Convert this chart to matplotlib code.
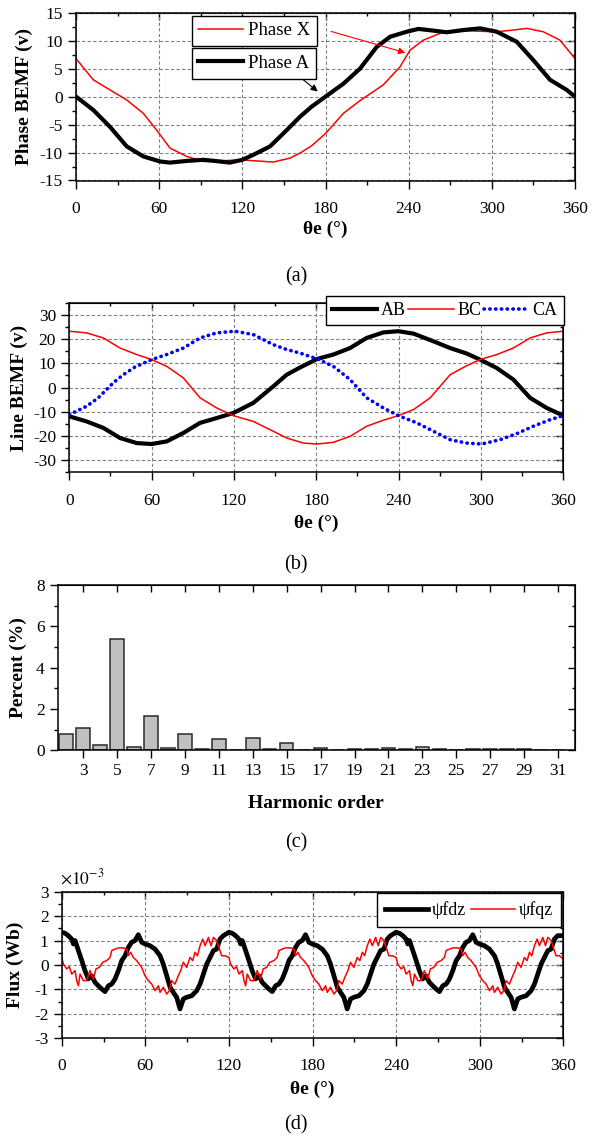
import numpy as np
import matplotlib
matplotlib.use('Agg')
import matplotlib.pyplot as plt
from matplotlib.ticker import MultipleLocator, FixedLocator

plt.rcParams['font.family'] = ['Liberation Serif', 'DejaVu Serif']
plt.rcParams['mathtext.fontset'] = 'stix'
plt.rcParams['axes.unicode_minus'] = False

# (a) phase back-EMF
phase_a_deg = [0, 12.5, 24.5, 36.6, 48.6, 60.6, 67.8, 79.9, 91.9, 103.9, 111, 120, 128, 140, 152,
               161.6, 170, 180, 192.9, 204.9, 217, 226.6, 238.6, 247, 257.8, 267.5, 279.5, 291.5,
               303.5, 318, 330, 342, 354, 360]
phase_a = [0, -2.4, -5.4, -8.9, -10.7, -11.6, -11.8, -11.5, -11.3, -11.6, -11.8, -11.3, -10.4, -8.9,
           -6.0, -3.6, -1.8, 0, 2.3, 5.0, 8.9, 10.7, 11.6, 12.1, 11.8, 11.5, 11.9, 12.2, 11.6, 9.8,
           6.5, 3.0, 1.2, 0]
phase_x_deg = [0, 12.5, 24.5, 36.6, 48.6, 58.2, 67.8, 79.9, 91.9, 103.9, 118.3, 130.3, 142.3, 154.3,
               161.6, 170, 180, 192.9, 205, 221.7, 233.7, 241, 250.6, 262.6, 274.6, 289, 303.5,
               315.5, 325.1, 337.1, 349.1, 360]
phase_x = [6.8, 3.0, 1.2, -0.6, -3.0, -6.0, -9.2, -10.7, -11.6, -11.5, -11.3, -11.5, -11.7, -11.0,
           -10.1, -8.8, -6.6, -3.0, -0.7, 2.1, 5.3, 8.3, 10.1, 11.3, 11.9, 11.7, 11.6, 11.9, 12.2,
           11.6, 10.1, 6.8]

# (b) line back-EMF
ab_deg = [0, 12.6, 24.8, 37, 49.1, 60, 71, 83.1, 95.3, 107.4, 119.5, 134.1, 148.7, 158.4, 168.1,
          180.3, 192.4, 204.6, 216.7, 228.9, 239.8, 250.8, 265.4, 277.5, 289.7, 299.3, 311.5, 323.6,
          335.8, 347.9, 360]
ab = [-12.0, -14.1, -16.8, -21, -23.1, -23.5, -22.4, -18.9, -14.7, -12.7, -10.6, -6.4, 0.5, 5.3, 8.3,
      11.8, 13.7, 16.4, 20.6, 22.9, 23.4, 22.4, 19.2, 16.4, 14.1, 11.6, 8.1, 3.3, -4.3, -8.5, -11.7]
bc_deg = [0, 12.6, 24.8, 37, 49.1, 60, 71, 83.1, 95.3, 107.4, 119.5, 134.1, 148.7, 158.4, 170.6,
          180.3, 192.4, 204.6, 216.7, 228.9, 239.8, 250.8, 263, 277.5, 289.7, 299.3, 311.5, 323.6,
          335.8, 347.9, 360]
bc = [23.4, 22.7, 20.6, 16.4, 13.7, 11.6, 8.8, 4.0, -4.3, -8.5, -11.7, -14.1, -18.2, -21, -23.1,
      -23.5, -22.8, -20.3, -16.1, -13.6, -11.7, -9.2, -4.3, 5.3, 9.1, 11.6, 13.7, 16.4, 20.6, 22.7, 23.4]
ca_deg = [0, 12.6, 21.1, 32, 39.3, 47.8, 60, 71, 83.1, 95.3, 107.4, 120.7, 134.1, 148.7, 158.4,
          168.1, 180.3, 192.4, 204.6, 216.7, 228.9, 239.8, 253.2, 265.4, 277.5, 289.7, 300.5, 313.9,
          326, 338.2, 350.3, 360]
ca = [-11.3, -7.8, -4.3, 1.9, 5.3, 8.5, 11.6, 13.7, 16.4, 20.6, 22.7, 23.4, 22.0, 17.8, 15.8, 14.3,
      12.0, 8.8, 3.3, -4.3, -8.5, -11.7, -14.7, -18.2, -21.7, -23.1, -23.5, -21.7, -19.2, -16.1,
      -13.4, -11.7]

# (c) harmonic spectrum
harmonics = list(range(2, 32))
percent = [0.81, 1.07, 0.24, 5.39, 0.18, 1.65, 0.10, 0.81, 0.05, 0.56, 0.02, 0.61, 0.05, 0.34, 0.0,
           0.11, 0.0, 0.08, 0.05, 0.12, 0.05, 0.14, 0.04, 0.0, 0.04, 0.08, 0.08, 0.05, 0.0, 0.0]

# (d) flux linkage (x1e-3 Wb), one 120 deg period, repeated three times
fdz_deg = [0, 2.4, 4.8, 7.2, 8.4, 9.6, 12, 14.4, 16.7, 19.1, 21.5, 23.9, 26.3, 28.7, 31.1, 33.5,
           35.9, 38.3, 40.7, 43.1, 45.5, 47.8, 50.2, 52.6, 55, 57.4, 59.8, 63.4, 67, 70.6, 72.9,
           75.4, 77.8, 80.1, 82.5, 84.9, 87.3, 89.7, 93.3, 96.9, 99.3, 101.7, 104.1, 106.5, 108.9,
           111.2, 113.6, 116]
fdz_val = [1.34, 1.3, 1.2, 1.06, 0.86, 1.0, 0.59, 0.18, -0.23, -0.57, -0.44, -0.71, -0.85, -0.98,
           -1.09, -0.85, -0.78, -0.57, -0.23, 0.18, 0.38, 0.72, 0.93, 1.0, 1.24, 0.93, 0.86, 0.79,
           0.65, 0.38, 0.04, -0.44, -0.91, -1.12, -1.32, -1.8, -1.39, -1.32, -1.26, -1.05, -0.78,
           -0.37, 0.04, 0.31, 0.59, 0.65, 1.06, 1.2]
fqz_deg = [0, 1.2, 3.6, 5.5, 7.2, 9.6, 10.8, 12, 13.2, 15.6, 17.9, 20.3, 22.7, 24.6, 27, 29.4, 32.3,
           34.7, 35.9, 38.3, 40.7, 44.3, 46.7, 47.8, 49.5, 51.4, 53.8, 57.4, 59.8, 62.2, 64.6, 67,
           69.4, 70.6, 72.9, 75.4, 77.3, 78.9, 81.3, 83.7, 85.4, 87.3, 89.7, 92.1, 94, 95.7, 97.4,
           99.3, 101.2, 102.9, 105.3, 107.2, 108.9, 111.2, 113.2, 114.8, 117.2]
fqz_val = [0.31, 0.04, -0.16, -0.07, -0.37, -0.23, -0.64, -0.85, -0.37, -0.64, -0.64, -0.23, -0.57,
           -0.16, -0.1, 0.11, 0.18, 0.31, 0.59, 0.65, 0.7, 0.7, 0.65, 0.38, 0.52, 0.31, 0.18, -0.1,
           -0.44, -0.64, -0.78, -1.05, -0.85, -1.12, -0.91, -1.19, -1.05, -0.64, -0.78, -0.44, -0.23,
           0.11, -0.1, 0.31, 0.18, 0.52, 0.38, 0.79, 1.06, 0.79, 1.13, 0.79, 1.13, 1.0, 0.65, 0.38,
           0.38]
fdz_end, fqz_end = 1.2, 0.25

theta_fdz = np.concatenate([np.add(fdz_deg, 120 * k) for k in range(3)] + [[360]])
psi_fdz = np.concatenate([fdz_val] * 3 + [[fdz_end]])
theta_fqz = np.concatenate([np.add(fqz_deg, 120 * k) for k in range(3)] + [[360]])
psi_fqz = np.concatenate([fqz_val] * 3 + [[fqz_end]])

W, H = 592, 1140
TICK = 12.5
LAB = 14


def rect(l, t, r, b):
    return [l / W, 1 - b / H, (r - l) / W, (b - t) / H]


def style(ax, xmaj, xmin, ymaj, ymin, grid=True, xpad=8.5):
    if isinstance(xmaj, list):
        ax.xaxis.set_major_locator(FixedLocator(xmaj))
    else:
        ax.xaxis.set_major_locator(MultipleLocator(xmaj))
    if xmin:
        ax.xaxis.set_minor_locator(MultipleLocator(xmin))
    ax.yaxis.set_major_locator(MultipleLocator(ymaj))
    ax.yaxis.set_minor_locator(MultipleLocator(ymin))
    ax.tick_params(which='both', direction='out', width=1.0, labelsize=TICK, top=False, right=False)
    ax.tick_params(which='major', length=6)
    ax.tick_params(which='minor', length=3)
    ax.tick_params(axis='x', which='major', pad=xpad)
    for s in ax.spines.values():
        s.set_linewidth(1.1)
    # inward ticks on top and right, like Origin
    sx = ax.secondary_xaxis('top')
    sx.xaxis.set_major_locator(ax.xaxis.get_major_locator())
    if xmin:
        sx.xaxis.set_minor_locator(MultipleLocator(xmin))
    sx.tick_params(which='both', direction='in', labeltop=False, width=1.0)
    sx.tick_params(which='major', length=5)
    sx.tick_params(which='minor', length=2.5)
    sy = ax.secondary_yaxis('right')
    sy.yaxis.set_major_locator(MultipleLocator(ymaj))
    sy.yaxis.set_minor_locator(MultipleLocator(ymin))
    sy.tick_params(which='both', direction='in', labelright=False, width=1.0)
    sy.tick_params(which='major', length=5)
    sy.tick_params(which='minor', length=2.5)
    if grid:
        ax.set_axisbelow(True)
        ax.grid(True, which='major', color='#808080', linestyle=(0, (3, 2)), linewidth=0.8)


def labels(ax, ylabel, ylab_x, xlabel, xlab_y, caption, cap_y):
    pos = ax.get_position()
    fig.text(ylab_x / W, pos.y0 + pos.height / 2, ylabel, rotation=90, ha='center', va='center',
             fontsize=LAB, fontweight='bold')
    fig.text((pos.x0 + pos.width / 2), 1 - xlab_y / H, xlabel, ha='center', va='center',
             fontsize=LAB, fontweight='bold')
    fig.text(0.5, 1 - cap_y / H, caption, ha='center', va='center', fontsize=14.5)


fig = plt.figure(figsize=(W / 100, H / 100), dpi=100)

# ---- (a)
ax1 = fig.add_axes(rect(76, 12.7, 575, 180.5))
lx, = ax1.plot(phase_x_deg, phase_x, color='red', lw=1.1)
la, = ax1.plot(phase_a_deg, phase_a, color='black', lw=3.0)
ax1.set_xlim(0, 360)
ax1.set_ylim(-15, 15)
style(ax1, 60, 30, 5, 2.5)
leg_opts = dict(loc='upper left', bbox_transform=fig.transFigure, fontsize=13.5, frameon=True,
                fancybox=False, edgecolor='black', framealpha=1, handlelength=2.4,
                handletextpad=0.25, borderpad=0.35, borderaxespad=0)
leg1 = ax1.legend([lx], ['Phase X'], bbox_to_anchor=(191.7 / W, 1 - 15.7 / H), **leg_opts)
ax1.add_artist(leg1)
leg2 = ax1.legend([la], ['Phase A'], bbox_to_anchor=(191.7 / W, 1 - 48.3 / H), **leg_opts)
for lg in (leg1, leg2):
    lg.get_frame().set_linewidth(1.0)
ax1.annotate('', xy=(239.5, 7.7), xytext=(182, 11.8),
             arrowprops=dict(arrowstyle='-|>', color='red', lw=0.8, mutation_scale=10))
ax1.annotate('', xy=(176, 0.6), xytext=(158.5, 4.1),
             arrowprops=dict(arrowstyle='-|>', color='black', lw=0.8, mutation_scale=10))
labels(ax1, 'Phase BEMF (v)', 24, 'θe (°)', 229, '(a)', 277)

# ---- (b)
ax2 = fig.add_axes(rect(69.3, 303.3, 563.3, 471.7))
ax2.plot(ab_deg, ab, color='black', lw=3.0, label='AB')
ax2.plot(bc_deg, bc, color='red', lw=1.1, label='BC')
ax2.plot(ca_deg, ca, color='blue', lw=2.6, linestyle=(0, (0.1, 1.5)), dash_capstyle='round',
         label='CA')
ax2.set_xlim(0, 360)
ax2.set_ylim(-35, 35)
style(ax2, 60, 30, 10, 5, xpad=9.5)
leg = ax2.legend(ncol=3, loc='upper right', bbox_to_anchor=(564 / W, 1 - 295.7 / H),
                 bbox_transform=fig.transFigure, fontsize=13, frameon=True, fancybox=False,
                 edgecolor='black', framealpha=1, handlelength=2.5, handletextpad=0.2,
                 columnspacing=0.15, borderpad=0.35, borderaxespad=0)
leg.get_frame().set_linewidth(1.0)
labels(ax2, 'Line BEMF (v)', 19, 'θe (°)', 523, '(b)', 565)

# ---- (c)
ax3 = fig.add_axes(rect(57.7, 585, 575, 750.3))
ax3.bar(harmonics, percent, width=0.8, color='#c0c0c0', edgecolor='#2a2a2a', linewidth=1.1)
ax3.set_xlim(1.5, 32)
ax3.set_ylim(0, 8)
style(ax3, list(range(3, 32, 2)), None, 2, 1, grid=False, xpad=3.5)
labels(ax3, 'Percent (%)', 18, 'Harmonic order', 804, '(c)', 843)

# ---- (d)
ax4 = fig.add_axes(rect(61.7, 891.7, 563.3, 1038.3))
ax4.plot(theta_fdz, psi_fdz, color='black', lw=3.4, label='ψfdz')
ax4.plot(theta_fqz, psi_fqz, color='red', lw=1.1, label='ψfqz')
ax4.set_xlim(0, 360)
ax4.set_ylim(-3, 3)
style(ax4, 60, 30, 1, 0.5)
leg = ax4.legend(ncol=2, loc='upper right', bbox_to_anchor=(560.7 / W, 1 - 893.3 / H),
                 bbox_transform=fig.transFigure, fontsize=13, frameon=True, fancybox=False,
                 edgecolor='black', framealpha=1, handlelength=2.4, handletextpad=0.2,
                 columnspacing=0.3, borderpad=0.45, borderaxespad=0)
leg.get_frame().set_linewidth(1.0)
fig.text(60 / W, 1 - 878 / H, r'$\times10^{-3}$', ha='left', va='center', fontsize=12.5)
labels(ax4, 'Flux (Wb)', 15, 'θe (°)', 1089, '(d)', 1125)

fig.savefig('out.png', dpi=100)
